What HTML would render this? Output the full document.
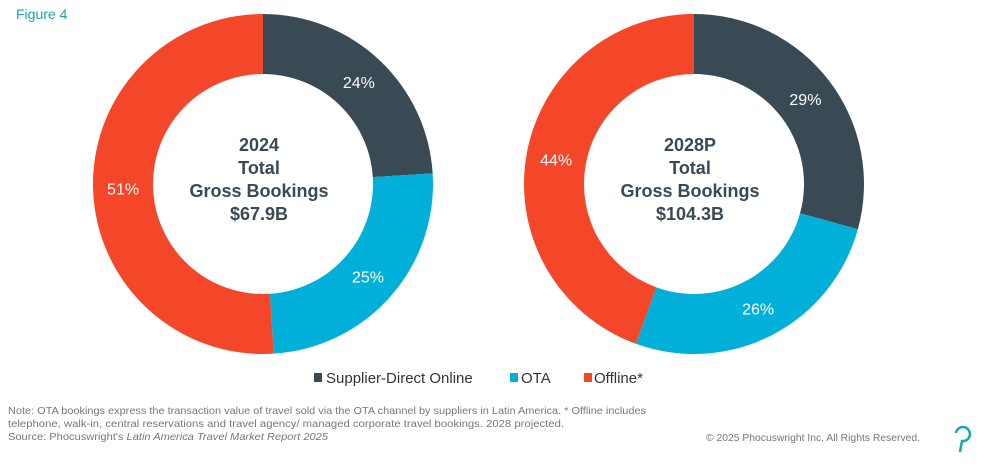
<!DOCTYPE html>
<html><head><meta charset="utf-8"><style>
body{margin:0;background:#fff;width:986px;height:468px;overflow:hidden;font-family:"Liberation Sans",sans-serif;}
svg{position:absolute;left:0;top:0}
</style></head><body>
<svg width="986" height="468">
<text x="16" y="19" font-size="14" fill="#1aa6b7">Figure 4</text>
<g id="donuts"></g>
<g font-size="15" fill="#333">
<rect x="314" y="373" width="8" height="9" fill="#3a4a55"/>
<text x="326" y="383">Supplier-Direct Online</text>
<rect x="510" y="373" width="8" height="9" fill="#00b0d8"/>
<text x="521" y="383">OTA</text>
<rect x="584" y="373" width="8" height="9" fill="#f4472a"/>
<text x="594" y="383">Offline*</text>
</g>
<g font-size="10.5" fill="#777">
<text x="8" y="414" textLength="638" lengthAdjust="spacingAndGlyphs">Note: OTA bookings express the transaction value of travel sold via the OTA channel by suppliers in Latin America. *  Offline includes</text>
<text x="8" y="427" textLength="556" lengthAdjust="spacingAndGlyphs">telephone, walk-in, central reservations and  travel agency/ managed corporate travel bookings. 2028 projected.</text>
<text x="8" y="440" textLength="320" lengthAdjust="spacingAndGlyphs">Source: Phocuswright's <tspan font-style="italic">Latin America Travel Market Report 2025</tspan></text>
<text x="706" y="441" textLength="214" lengthAdjust="spacingAndGlyphs">© 2025 Phocuswright Inc. All Rights Reserved.</text>
</g>
<path d="M956 433 a7 7 0 1 1 6 8 L960 452" stroke="#1aa6b7" stroke-width="2.5" fill="none"/>
</svg>
<script>
const categories=["Supplier-Direct Online","OTA","Offline*"];
const colors=["#3a4a55","#00b0d8","#f4472a"];
const values2024=[24,25,51];
const values2028=[29,26,44];
const titles=[["2024","Total","Gross Bookings","$67.9B"],["2028P","Total","Gross Bookings","$104.3B"]];
const NS="http://www.w3.org/2000/svg";
const g=document.getElementById('donuts');
function donut(vals,cx,cy,title,idx){
  const R=170,r=110,tot=vals.reduce((a,b)=>a+b,0);
  let a0=0;
  vals.forEach((v,i)=>{
    const a1=a0+v/tot*2*Math.PI;
    const p=(a,rad)=>[cx+rad*Math.sin(a),cy-rad*Math.cos(a)];
    const [x0,y0]=p(a0,R),[x1,y1]=p(a1,R),[x2,y2]=p(a1,r),[x3,y3]=p(a0,r);
    const lg=(a1-a0)>Math.PI?1:0;
    const path=document.createElementNS(NS,'path');
    path.setAttribute('d',`M${x0},${y0}A${R},${R} 0 ${lg} 1 ${x1},${y1}L${x2},${y2}A${r},${r} 0 ${lg} 0 ${x3},${y3}Z`);
    path.setAttribute('fill',colors[i]);
    
    
    g.appendChild(path);
    const [lx,ly]=p((a0+a1)/2,140);
    const t=document.createElementNS(NS,'text');
    t.setAttribute('x',lx);t.setAttribute('y',ly+6);
    t.setAttribute('text-anchor','middle');t.setAttribute('fill','#fff');t.setAttribute('font-size','16');
    
    
    t.textContent=v+'%';
    g.appendChild(t);
    a0=a1;
  });
  title.forEach((s,k)=>{
    const t=document.createElementNS(NS,'text');
    t.setAttribute('x',cx-4);t.setAttribute('y',cy-33+k*23);
    t.setAttribute('text-anchor','middle');t.setAttribute('fill','#3a4a55');t.setAttribute('font-size','18');t.setAttribute('font-weight','bold');
    
    
    t.textContent=s;
    g.appendChild(t);
  });
}
donut(values2024,263,184,titles[0],0);
donut(values2028,694,184,titles[1],1);
</script>
</body></html>
